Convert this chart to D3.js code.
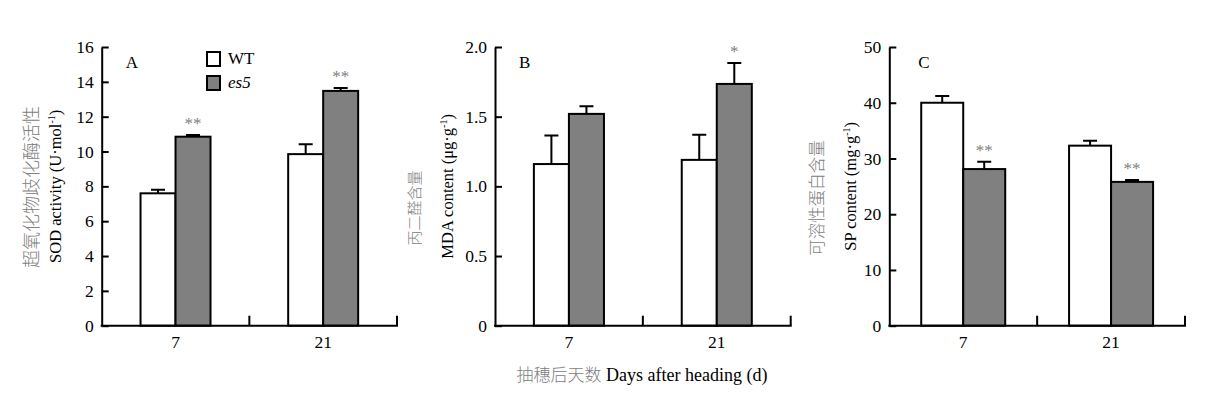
<!doctype html>
<html lang="zh">
    <head>
        <meta charset="utf-8">
        <title>SOD MDA SP</title>
        <script src="https://cdn.jsdelivr.net/npm/d3@7"></script>
        <style>
            body { margin: 0; background: #fff; }
            text { font-family: "Liberation Serif", "Times New Roman", serif; }
            .cn { font-family: "Noto Sans CJK SC", sans-serif; font-weight: 300; fill: #808080; }
        </style>
    </head>
    <body>
        <script>
            // data
            var days = ["7", "21"];
            var series = ["WT", "es5"];

            var sodWT = [7.6, 9.85];
            var sodWTErr = [0.2, 0.57];
            var sodES5 = [10.85, 13.48];
            var sodES5Err = [0.1, 0.17];
            var sodStars = ["", "**", "", "**"];   // WT7, es5-7, WT21, es5-21
            var sodTicks = [0, 2, 4, 6, 8, 10, 12, 14, 16];

            var mdaWT = [1.16, 1.19];
            var mdaWTErr = [0.205, 0.18];
            var mdaES5 = [1.52, 1.735];
            var mdaES5Err = [0.055, 0.15];
            var mdaStars = ["", "", "", "*"];
            var mdaTicks = [0, 0.5, 1.0, 1.5, 2.0];

            var spWT = [40.0, 32.3];
            var spWTErr = [1.2, 0.9];
            var spES5 = [28.1, 25.8];
            var spES5Err = [1.3, 0.35];
            var spStars = ["", "**", "", "**"];
            var spTicks = [0, 10, 20, 30, 40, 50];

            var W = 1209, H = 393;
            var yBottom = 325.7, yTop = 47;

            var svg = d3.select("body").append("svg")
                        .attr("width", W)
                        .attr("height", H);

            var panels = [
                {tag: "A", x0: 101.7, x1: 397, max: 16, ticks: sodTicks, fmt: d3.format("d"),
                 wt: sodWT, wtErr: sodWTErr, es: sodES5, esErr: sodES5Err, stars: sodStars, pad: 1.11,
                 cn: "超氧化物歧化酶活性", en: "SOD activity (U·mol", unitTail: ")",
                 cnX: 32, enX: 55, cnY: 187, cnSize: 18},
                {tag: "B", x0: 495, x1: 790.7, max: 2, ticks: mdaTicks, fmt: d => d === 0 ? "0" : d3.format(".1f")(d),
                 wt: mdaWT, wtErr: mdaWTErr, es: mdaES5, esErr: mdaES5Err, stars: mdaStars, pad: 1.11,
                 cn: "丙二醛含量", en: "MDA content (μg·g", unitTail: ")",
                 cnX: 415, enX: 447, cnY: 208, cnSize: 15},
                {tag: "C", x0: 889.3, x1: 1185, max: 50, ticks: spTicks, fmt: d3.format("d"),
                 wt: spWT, wtErr: spWTErr, es: spES5, esErr: spES5Err, stars: spStars, pad: 0.76,
                 cn: "可溶性蛋白含量", en: "SP content (mg·g", unitTail: ")",
                 cnX: 817, enX: 850, cnY: 198, cnSize: 16.5}
            ];

            panels.forEach(function(p) {
                var g = svg.append("g");

                var x = d3.scaleBand().domain(days).range([p.x0, p.x1]).padding(0);
                var xs = d3.scaleBand().domain(series).range([0, x.bandwidth()])
                           .paddingInner(0).paddingOuter(p.pad);
                var y = d3.scaleLinear().domain([0, p.max]).range([yBottom, yTop]);

                var bars = [];
                days.forEach(function(d, i) {
                    bars.push({day: d, s: "WT", v: p.wt[i], e: p.wtErr[i], star: p.stars[i * 2]});
                    bars.push({day: d, s: "es5", v: p.es[i], e: p.esErr[i], star: p.stars[i * 2 + 1]});
                });

                // error bars (behind the bars)
                g.selectAll(".err")
                 .data(bars)
                 .enter()
                 .append("path")
                 .attr("d", function(b) {
                     var cx = x(b.day) + xs(b.s) + xs.bandwidth() / 2;
                     return "M" + cx + "," + y(b.v) + "V" + y(b.v + b.e) +
                            "M" + (cx - 7) + "," + y(b.v + b.e) + "H" + (cx + 7);
                 })
                 .attr("stroke", "#000")
                 .attr("stroke-width", 2)
                 .attr("fill", "none");

                g.selectAll(".bar")
                 .data(bars)
                 .enter()
                 .append("rect")
                 .attr("x", b => x(b.day) + xs(b.s))
                 .attr("y", b => y(b.v))
                 .attr("width", xs.bandwidth())
                 .attr("height", b => yBottom - y(b.v))
                 .attr("fill", b => b.s === "WT" ? "#fff" : "#7f807f")
                 .attr("stroke", "#000")
                 .attr("stroke-width", 2);

                g.selectAll(".star")
                 .data(bars.filter(b => b.star))
                 .enter()
                 .append("text")
                 .attr("x", b => x(b.day) + xs(b.s) + xs.bandwidth() / 2)
                 .attr("y", b => y(b.v + b.e) - 6)
                 .attr("text-anchor", "middle")
                 .attr("font-size", "17px")
                 .attr("fill", "#808080")
                 .text(b => b.star);

                // y axis, ticks pointing inward
                var yAxis = d3.axisLeft(y)
                              .tickValues(p.ticks)
                              .tickFormat(p.fmt)
                              .tickSize(-7)
                              .tickSizeOuter(0)
                              .tickPadding(8);
                var ya = g.append("g")
                          .attr("transform", "translate(" + p.x0 + ",0)")
                          .call(yAxis);
                ya.select(".domain").attr("stroke-width", 2);
                ya.selectAll(".tick line").attr("stroke-width", 2);
                ya.selectAll("text").attr("font-size", "17.5px").attr("font-family", "Liberation Serif").attr("fill", "#000");

                // x axis: labels at band centres, upward ticks at band ends
                var xAxis = d3.axisBottom(x).tickSize(0).tickPadding(10);
                var xa = g.append("g")
                          .attr("transform", "translate(0," + yBottom + ")")
                          .call(xAxis);
                xa.select(".domain").remove();
                xa.selectAll("text").attr("font-size", "17.5px").attr("font-family", "Liberation Serif").attr("fill", "#000");

                g.append("line")
                 .attr("x1", p.x0 - 1).attr("x2", p.x1 + 1)
                 .attr("y1", yBottom).attr("y2", yBottom)
                 .attr("stroke", "#000").attr("stroke-width", 2);
                g.selectAll(".xt")
                 .data(days)
                 .enter()
                 .append("line")
                 .attr("x1", d => x(d) + x.bandwidth())
                 .attr("x2", d => x(d) + x.bandwidth())
                 .attr("y1", yBottom)
                 .attr("y2", yBottom - 10)
                 .attr("stroke", "#000").attr("stroke-width", 2);

                g.append("text")
                 .attr("x", p.x0 + (p.tag === "C" ? 29 : 24))
                 .attr("y", 68)
                 .attr("font-size", "17px")
                 .text(p.tag);

                // y labels, two rotated lines
                var yc = (yBottom + yTop) / 2;
                g.append("text")
                 .attr("class", "cn")
                 .attr("transform", "translate(" + p.cnX + "," + p.cnY + ") rotate(-90)")
                 .attr("text-anchor", "middle")
                 .attr("dy", "0.35em")
                 .attr("font-size", p.cnSize + "px")
                 .text(p.cn);
                var en = g.append("text")
                          .attr("transform", "translate(" + p.enX + "," + yc + ") rotate(-90)")
                          .attr("text-anchor", "middle")
                          .attr("dy", "0.35em")
                          .attr("font-size", "16.5px");
                en.append("tspan").text(p.en);
                en.append("tspan").attr("font-size", "10px").attr("dy", "-6").text("-1");
                en.append("tspan").attr("dy", "6").text(p.unitTail);
            });

            // legend in panel A
            var legend = svg.append("g").attr("transform", "translate(207,52)");
            series.forEach(function(s, i) {
                legend.append("rect")
                      .attr("x", 0).attr("y", i * 24)
                      .attr("width", 13).attr("height", 14)
                      .attr("fill", s === "WT" ? "#fff" : "#7f807f")
                      .attr("stroke", "#000").attr("stroke-width", 2);
                legend.append("text")
                      .attr("x", 21).attr("y", i * 24 + 12)
                      .attr("font-size", "17px")
                      .attr("font-style", s === "es5" ? "italic" : "normal")
                      .text(s);
            });

            // shared x title
            var title = svg.append("text")
                           .attr("x", 642)
                           .attr("y", 381)
                           .attr("text-anchor", "middle")
                           .attr("font-size", "18px");
            title.append("tspan").attr("class", "cn").attr("font-size", "17px").text("抽穗后天数");
            title.append("tspan").text(" Days after heading (d)");
        </script>
    </body>
</html>
